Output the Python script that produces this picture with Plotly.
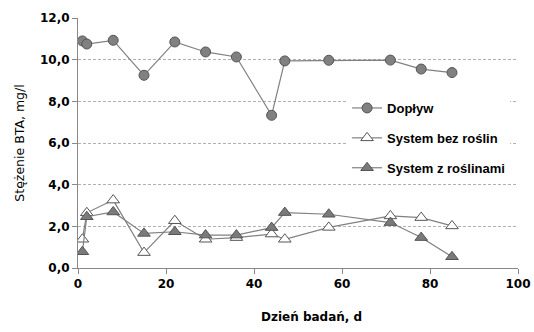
import plotly.graph_objects as go

days = [1, 2, 8, 15, 22, 29, 36, 44, 47, 57, 71, 78, 85]
doplyw = [10.9, 10.75, 10.93, 9.25, 10.85, 10.37, 10.13, 7.33, 9.94, 9.97, 9.98, 9.55, 9.38]
bez_roslin = [1.38, 2.65, 3.26, 0.74, 2.27, 1.38, 1.46, 1.63, 1.38, 1.95, 2.5, 2.42, 2.02]
z_roslinami = [0.78, 2.46, 2.69, 1.66, 1.74, 1.58, 1.58, 1.94, 2.66, 2.58, 2.18, 1.46, 0.54]

names = ["Dopływ", "System bez roślin", "System z roślinami"]
x_ticks = [0, 20, 40, 60, 80, 100]
y_ticks = [0, 2, 4, 6, 8, 10, 12]
y_tick_text = ["0,0", "2,0", "4,0", "6,0", "8,0", "10,0", "12,0"]

fig = go.Figure()
fig.add_trace(go.Scatter(x=days, y=doplyw, name=names[0], mode="lines+markers", legendgroup="a",
                         line=dict(color="#808080", width=1.2),
                         marker=dict(symbol="circle", size=10, color="#808080",
                                     line=dict(color="#555555", width=1))))
fig.add_trace(go.Scatter(x=days, y=bez_roslin, name=names[1], mode="lines+markers", legendgroup="b",
                         line=dict(color="#808080", width=1.2),
                         marker=dict(symbol="triangle-up", size=11, color="#ffffff",
                                     line=dict(color="#555555", width=1))))
fig.add_trace(go.Scatter(x=days, y=z_roslinami, name=names[2], mode="lines+markers", legendgroup="c",
                         line=dict(color="#808080", width=1.2),
                         marker=dict(symbol="triangle-up", size=11, color="#7a7a7a",
                                     line=dict(color="#555555", width=1))))

fig.update_layout(
    width=534, height=332,
    margin=dict(l=78, r=16, t=18, b=64, autoexpand=False),
    paper_bgcolor="white", plot_bgcolor="white",
    showlegend=True,
    legend=dict(x=0.982, y=0.70, xanchor="right", yanchor="top",
                bgcolor="white", font=dict(family="Liberation Sans", size=13, color="#000000", weight="bold"),
                traceorder="grouped", tracegroupgap=10, itemwidth=30),
    xaxis=dict(range=[0, 100], tickvals=x_ticks, ticks="outside", ticklen=5,
               tickcolor="#888888", showline=True, linecolor="#888888", showgrid=False,
               zeroline=False, tickfont=dict(family="DejaVu Sans", size=12, color="#000", weight="bold")),
    yaxis=dict(range=[0, 12], tickvals=y_ticks, ticktext=y_tick_text, ticks="outside", ticklen=5,
               tickcolor="#888888", showline=True, linecolor="#888888",
               showgrid=True, gridcolor="#b0b0b0", griddash="3px,2px", gridwidth=1,
               zeroline=False, tickfont=dict(family="DejaVu Sans", size=12, color="#000", weight="bold"),
               title=dict(text="Stężenie BTA, mg/l", font=dict(family="DejaVu Sans", size=12.5, color="#000"), standoff=12)),
    annotations=[dict(text="Dzień badań, d", xref="paper", yref="paper", x=(311 - 78) / 440, y=-0.195,
                      xanchor="center", yanchor="middle", showarrow=False,
                      font=dict(family="DejaVu Sans", size=12, color="#000", weight="bold"))],
)

fig.write_html("out.html", config={"displayModeBar": False},
               post_script="document.body.style.margin='0';document.documentElement.style.overflow='hidden';")
